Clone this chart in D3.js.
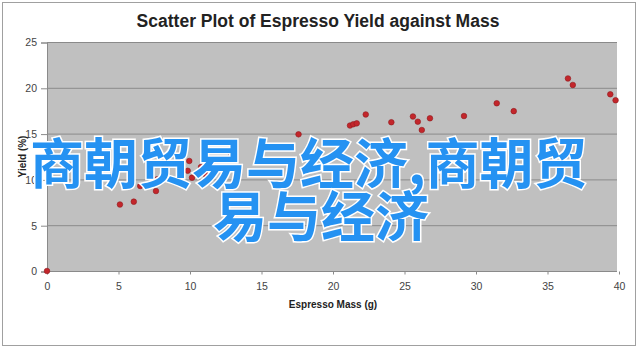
<!DOCTYPE html>
<html>
<head>
<meta charset="utf-8">
<script src="https://cdn.jsdelivr.net/npm/d3@7"></script>
<style>
  body { margin: 0; background: #fff; }
  svg { display: block; font-family: "Liberation Sans", Arial, sans-serif; }
</style>
</head>
<body>
<div id="chart"></div>
<script>
// espresso mass (g) vs yield (%)
var mass = [0, 5.1, 6.07, 6.52, 7.62, 7.71, 9.95, 9.84, 10.14, 10.77, 11.08, 12.87,
    17.59, 18.46, 21.19, 21.42, 21.66, 22.29, 24.08, 25.59, 25.93, 26.21, 26.78,
    29.16, 31.45, 32.64, 36.43, 36.77, 39.39, 39.76];
var yieldPct = [0, 7.26, 7.57, 9.28, 8.73, 10.01, 12.01, 10.94, 10.19, 11.35, 10.57, 12.85,
    14.92, 13.92, 15.88, 16.02, 16.12, 17.09, 16.24, 16.87, 16.3, 15.39, 16.67,
    16.92, 18.31, 17.45, 21.02, 20.31, 19.29, 18.64];
var xTicks = [0, 5, 10, 15, 20, 25, 30, 35, 40];
var yTicks = [0, 5, 10, 15, 20, 25];
var overlayLines = ["商朝贸易与经济,商朝贸", "易与经济"];

var width = 640, height = 350;
var margin = {left: 47, right: 21, top: 42, bottom: 79};

var svg = d3.select("#chart").append("svg")
    .attr("width", width)
    .attr("height", height);

// outer chart frame
svg.append("rect")
    .attr("x", 2.5).attr("y", 2.5)
    .attr("width", 633).attr("height", 343)
    .attr("fill", "#fff")
    .attr("stroke", "#a0a0a0");

var x = d3.scaleLinear().domain([0, 40]).range([margin.left, width - margin.right]);
var y = d3.scaleLinear().domain([0, 25]).range([height - margin.bottom, margin.top]);

// plot area
svg.append("rect")
    .attr("x", x(0)).attr("y", y(25))
    .attr("width", x(40) - x(0) - 2).attr("height", y(0) - y(25))
    .attr("fill", "#c0c0c0");

// horizontal gridlines
svg.append("g").selectAll("line")
    .data(yTicks)
    .enter().append("line")
    .attr("x1", x(0)).attr("x2", x(40) - 2)
    .attr("y1", function (d) { return y(d) + 0.5; })
    .attr("y2", function (d) { return y(d) + 0.5; })
    .attr("stroke", "#8a8a8a");

var yAxis = svg.append("g")
    .attr("transform", "translate(" + x(0) + ",0.5)")
    .call(d3.axisLeft(y).tickValues(yTicks).tickSize(6).tickPadding(4));
yAxis.select(".domain").attr("stroke", "#8a8a8a");
yAxis.selectAll(".tick line").attr("stroke", "#8a8a8a");
yAxis.selectAll("text").attr("fill", "#444").attr("font-size", "10.5px");

var xAxis = svg.append("g")
    .attr("transform", "translate(0," + (y(0) + 0.5) + ")")
    .call(d3.axisBottom(x).tickValues(xTicks).tickSize(3).tickPadding(8));
xAxis.select(".domain").remove();
xAxis.selectAll(".tick line").attr("stroke", "#8a8a8a");
xAxis.selectAll("text").attr("fill", "#444").attr("font-size", "10.5px");

// points
svg.append("g").selectAll("circle")
    .data(mass)
    .enter().append("circle")
    .attr("cx", function (d) { return x(d); })
    .attr("cy", function (d, i) { return y(yieldPct[i]); })
    .attr("r", 2.8)
    .attr("fill", "#c3262b")
    .attr("stroke", "#8e1b1e")
    .attr("stroke-width", 0.6);

// titles
svg.append("text")
    .attr("x", 318).attr("y", 27)
    .attr("text-anchor", "middle")
    .attr("font-size", "17.5px")
    .attr("font-weight", "bold")
    .attr("fill", "#222")
    .text("Scatter Plot of Espresso Yield against Mass");

svg.append("text")
    .attr("x", (x(0) + x(40)) / 2).attr("y", 308)
    .attr("text-anchor", "middle")
    .attr("font-size", "10px")
    .attr("font-weight", "bold")
    .attr("fill", "#222")
    .text("Espresso Mass (g)");

svg.append("text")
    .attr("transform", "translate(26," + ((y(0) + y(25)) / 2) + ") rotate(-90)")
    .attr("text-anchor", "middle")
    .attr("font-size", "10px")
    .attr("font-weight", "bold")
    .attr("fill", "#222")
    .text("Yield (%)");

// overlay caption
svg.append("g").selectAll("text")
    .data(overlayLines)
    .enter().append("text")
    .attr("x", function (d, i) { return i === 0 ? 30 : 213; })
    .attr("y", function (d, i) { return 184 + i * 53; })
    .attr("font-family", "'Noto Sans CJK SC', sans-serif")
    .attr("font-size", "54px")
    .attr("font-weight", "bold")
    .attr("fill", "#2592f2")
    .attr("stroke", "#fff")
    .attr("stroke-width", 3)
    .attr("paint-order", "stroke")
    .text(function (d) { return d; });
</script>
</body>
</html>
